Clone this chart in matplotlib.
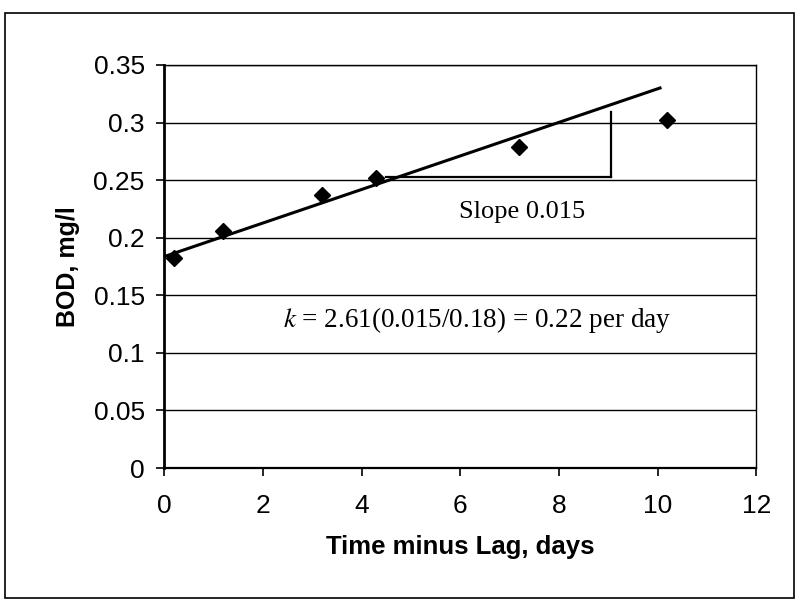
import matplotlib.pyplot as plt
from matplotlib.patches import Rectangle

# measured BOD values
t_days = [0.2, 1.2, 3.2, 4.3, 7.2, 10.2]
bod = [0.182, 0.206, 0.237, 0.252, 0.279, 0.302]

# fitted line end points
fit_x = [0.0, 10.05]
fit_y = [0.1836, 0.330]

# slope triangle
slope_h_x = [4.5, 9.05]
slope_y = [0.253, 0.309]

fig = plt.figure(figsize=(7.97, 6.05), dpi=100)
ax = fig.add_axes([0.206, 0.2264, 0.7428, 0.6662])

ax.plot(t_days, bod, 'D', color='black', markersize=8, zorder=4)
ax.plot(fit_x, fit_y, color='black', linewidth=2.2, zorder=3)
ax.plot(slope_h_x, [slope_y[0], slope_y[0]], color='black', linewidth=1.6, zorder=3)
ax.plot([slope_h_x[1], slope_h_x[1]], slope_y, color='black', linewidth=1.6, zorder=3)

ax.set_xlim(0, 12)
ax.set_ylim(0, 0.35)
ax.set_xticks([0, 2, 4, 6, 8, 10, 12])
ax.set_yticks([0, 0.05, 0.1, 0.15, 0.2, 0.25, 0.3, 0.35])
ax.set_yticklabels(['0', '0.05', '0.1', '0.15', '0.2', '0.25', '0.3', '0.35'])
ax.yaxis.grid(True, color='black', linewidth=1.0)
ax.set_axisbelow(True)

for s in ax.spines.values():
    s.set_linewidth(1.0)
ax.spines['left'].set_linewidth(2.0)
ax.spines['bottom'].set_linewidth(1.6)

ax.tick_params(direction='out', length=6, width=1.2, pad=8,
               labelsize=19, labelfontfamily='Liberation Sans')
ax.tick_params(axis='x', pad=13)

ax.set_xlabel('Time minus Lag, days', fontsize=18.5, fontweight='bold',
              family='Liberation Sans', labelpad=12)
ax.set_ylabel('BOD, mg/l', fontsize=18, fontweight='bold',
              family='Liberation Sans', labelpad=10)

ax.text(7.25, 0.2227, 'Slope 0.015', fontsize=19, family='Liberation Serif',
        ha='center', va='center')
ax.text(6.34, 0.1286, r'$k$ = 2.61(0.015/0.18) = 0.22 per day', fontsize=19.5,
        family='Liberation Serif', ha='center', va='center',
        math_fontfamily='stix')

fig.patches.append(Rectangle((5 / 797, 7 / 605), 789 / 797, 585 / 605,
                             transform=fig.transFigure, fill=False,
                             edgecolor='black', linewidth=1.2))

fig.savefig('out.png', dpi=100)
